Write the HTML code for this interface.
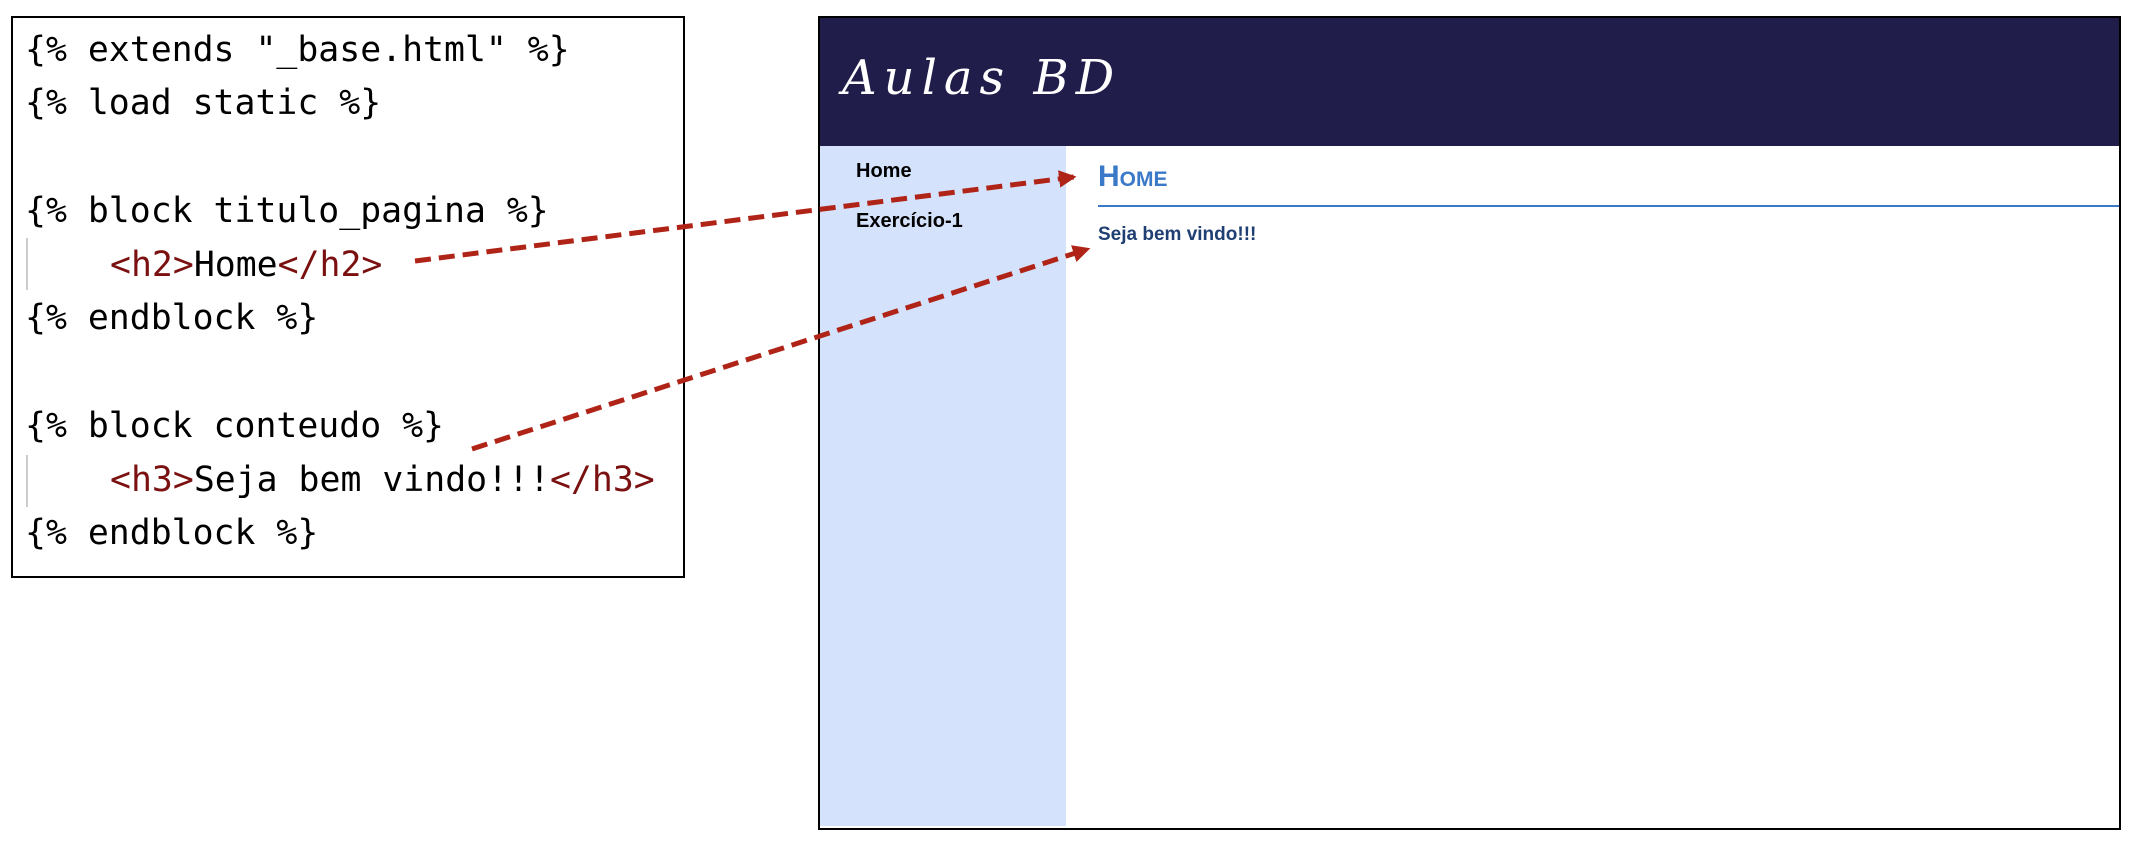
<!DOCTYPE html>
<html><head><meta charset="utf-8"><style>
body{margin:0;width:2134px;height:842px;background:#fff;position:relative;overflow:hidden;font-family:"Liberation Sans",sans-serif}
.abs{position:absolute}
.code{font-family:"DejaVu Sans Mono","Liberation Mono",monospace;font-size:34.8px;color:#000;white-space:pre;line-height:40px}
.r{color:#7a1010}
</style></head><body>
<div class="abs" style="left:11px;top:16px;width:670px;height:558px;border:2px solid #000"></div>
<div class="abs" style="left:26px;top:238px;width:2px;height:52px;background:#ccc"></div>
<div class="abs" style="left:26px;top:455px;width:2px;height:52px;background:#ccc"></div>
<div class="abs code" style="left:25px;top:30px">{% extends "_base.html" %}</div>
<div class="abs code" style="left:25px;top:83px">{% load static %}</div>
<div class="abs code" style="left:25px;top:191px">{% block titulo_pagina %}</div>
<div class="abs code" style="left:110px;top:245px"><span class="r">&lt;h2&gt;</span>Home<span class="r">&lt;/h2&gt;</span></div>
<div class="abs code" style="left:25px;top:298px">{% endblock %}</div>
<div class="abs code" style="left:25px;top:406px">{% block conteudo %}</div>
<div class="abs code" style="left:110px;top:460px"><span class="r">&lt;h3&gt;</span>Seja bem vindo!!!<span class="r">&lt;/h3&gt;</span></div>
<div class="abs code" style="left:25px;top:513px">{% endblock %}</div>

<div class="abs" style="left:818px;top:16px;width:1299px;height:810px;border:2px solid #000;background:#fff"></div>
<div class="abs" style="left:820px;top:18px;width:1299px;height:128px;background:#201d4a"></div>
<div class="abs" style="left:820px;top:146px;width:246px;height:680px;background:#d5e2fb"></div>
<div class="abs" style="left:842px;top:50px;color:#fff;font-family:'DejaVu Serif','Liberation Serif',serif;font-style:italic;font-size:48px;letter-spacing:7px">Aulas BD</div>
<div class="abs" style="left:856px;top:160px;font-size:20px;font-weight:bold">Home</div>
<div class="abs" style="left:856px;top:210px;font-size:20px;font-weight:bold">Exercício-1</div>
<div class="abs" style="left:1098px;top:160px;font-size:30px;font-weight:bold;color:#3a78c8;font-variant:small-caps">Home</div>
<div class="abs" style="left:1098px;top:205px;width:1021px;height:2px;background:#3a78c8"></div>
<div class="abs" style="left:1098px;top:224px;font-size:19px;font-weight:bold;color:#1f3f73">Seja bem vindo!!!</div>

<svg class="abs" style="left:0;top:0" width="2134" height="842">
<defs><marker id="a" markerWidth="3.5" markerHeight="3.5" refX="3" refY="1.75" orient="auto"><path d="M0,0L3.5,1.75L0,3.5z" fill="#b02418"/></marker></defs>
<line x1="415" y1="261" x2="1074" y2="177" stroke="#b02418" stroke-width="5" stroke-dasharray="16,8" marker-end="url(#a)"/>
<line x1="472" y1="449" x2="1088" y2="249" stroke="#b02418" stroke-width="5" stroke-dasharray="16,8" marker-end="url(#a)"/>
</svg>
</body></html>
